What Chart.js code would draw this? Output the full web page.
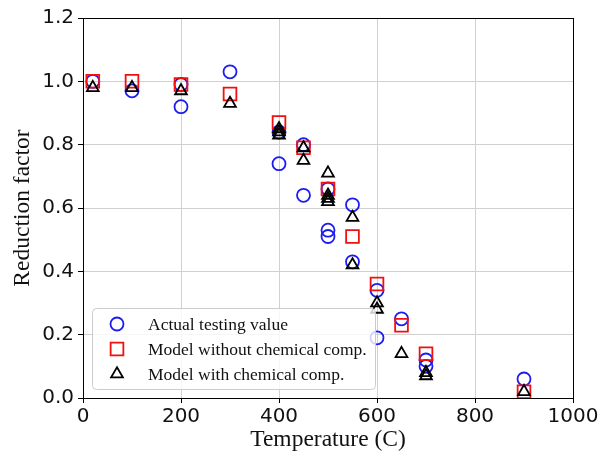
<!DOCTYPE html>
<html>
<head>
<meta charset="utf-8">
<script src="https://cdn.jsdelivr.net/npm/chart.js@4/dist/chart.umd.min.js"></script>
<style>
  html, body { margin: 0; padding: 0; background: #fff; }
  #wrap { width: 609px; height: 458px; }
</style>
</head>
<body>
<div id="wrap"><canvas id="c" width="609" height="458"></canvas></div>
<script>
// Measured reduction factors vs. temperature
const actualTemps  = [20, 100, 200, 200, 300, 400, 400, 450, 450, 500, 500, 500, 550, 550, 600, 600, 650, 700, 700, 900];
const actualValues = [1.00, 0.97, 0.99, 0.92, 1.03, 0.84, 0.74, 0.80, 0.64, 0.66, 0.53, 0.51, 0.61, 0.43, 0.34, 0.19, 0.25, 0.12, 0.10, 0.06];

// Model predictions without chemical composition
const noChemTemps  = [20, 100, 200, 300, 400, 450, 500, 550, 600, 650, 700, 900];
const noChemValues = [1.00, 1.00, 0.99, 0.96, 0.87, 0.79, 0.66, 0.51, 0.36, 0.23, 0.14, 0.02];

// Model predictions with chemical composition
const chemTemps  = [20, 100, 200, 300, 400, 400, 400, 450, 450, 500, 500, 500, 500, 550, 550, 600, 600, 650, 700, 700, 900];
const chemValues = [0.98, 0.98, 0.97, 0.93, 0.85, 0.84, 0.83, 0.79, 0.75, 0.71, 0.64, 0.63, 0.62, 0.57, 0.42, 0.30, 0.28, 0.14, 0.08, 0.07, 0.02];

const xTicks = [0, 200, 400, 600, 800, 1000];
const yTicks = [0.0, 0.2, 0.4, 0.6, 0.8, 1.0, 1.2];

const seriesLabels = ['Actual testing value', 'Model without chemical comp.', 'Model with chemical comp.'];

const toPoints = (xs, ys) => xs.map((x, i) => ({ x: x, y: ys[i] }));

const serif = "'Liberation Serif', 'Times New Roman', serif";
const sans = "'DejaVu Sans', sans-serif";

// Frame around the plotting area
const frame = {
  id: 'frame',
  beforeDatasetsDraw(chart) {
    const { ctx, chartArea: a } = chart;
    ctx.save();
    ctx.strokeStyle = '#000';
    ctx.lineWidth = 1;
    ctx.strokeRect(Math.round(a.left) + 0.5, Math.round(a.top) + 0.5,
                   Math.round(a.right - a.left), Math.round(a.bottom - a.top));
    ctx.restore();
  }
};

// Boxed legend in the lower-left corner of the plot
const boxLegend = {
  id: 'boxLegend',
  afterDatasetsDraw(chart) {
    const { ctx, chartArea: a } = chart;
    const w = 283, h = 81;
    const x = a.left + 9, y = a.bottom - 9 - h;
    ctx.save();
    ctx.beginPath();
    ctx.roundRect(x + 0.5, y + 0.5, w, h, 4);
    ctx.fillStyle = 'rgba(255,255,255,0.8)';
    ctx.fill();
    ctx.strokeStyle = '#cccccc';
    ctx.lineWidth = 1;
    ctx.stroke();
    chart.data.datasets.forEach((ds, i) => {
      const cy = y + 16 + i * 25;
      ctx.strokeStyle = ds.borderColor;
      ctx.fillStyle = 'rgba(0,0,0,0)';
      ctx.lineWidth = ds.pointBorderWidth;
      Chart.helpers.drawPoint(ctx, {
        pointStyle: ds.pointStyle, radius: ds.pointRadius, rotation: 0, borderWidth: ds.pointBorderWidth
      }, x + 25, cy);
      ctx.fillStyle = '#111';
      ctx.font = '17.5px ' + serif;
      ctx.textAlign = 'left';
      ctx.textBaseline = 'middle';
      ctx.fillText(ds.label, x + 56, cy + 1);
    });
    ctx.restore();
  }
};

new Chart(document.getElementById('c'), {
  type: 'scatter',
  data: {
    datasets: [
      {
        label: seriesLabels[0],
        data: toPoints(actualTemps, actualValues),
        pointStyle: 'circle', pointRadius: 6.5, pointBorderWidth: 1.8,
        borderColor: '#1c1cf0', backgroundColor: 'rgba(0,0,0,0)', order: 3
      },
      {
        label: seriesLabels[1],
        data: toPoints(noChemTemps, noChemValues),
        pointStyle: 'rect', pointRadius: 9, pointBorderWidth: 1.8,
        borderColor: '#f01010', backgroundColor: 'rgba(0,0,0,0)', order: 2
      },
      {
        label: seriesLabels[2],
        data: toPoints(chemTemps, chemValues),
        pointStyle: 'triangle', pointRadius: 6.8, pointBorderWidth: 1.8,
        borderColor: '#000000', backgroundColor: 'rgba(0,0,0,0)', order: 1
      }
    ]
  },
  options: {
    responsive: false,
    animation: false,
    layout: { padding: { top: 18, right: 36, left: 0, bottom: 0 } },
    plugins: { legend: { display: false }, tooltip: { enabled: false } },
    scales: {
      x: {
        type: 'linear', min: 0, max: 1000,
        afterBuildTicks: s => { s.ticks = xTicks.map(v => ({ value: v })); },
        afterFit: s => { s.height = 60; },
        ticks: { font: { family: sans, size: 20 }, color: '#111', padding: 2, maxRotation: 0,
                 callback: v => String(v) },
        grid: { color: '#d0d0d0', lineWidth: 1, tickColor: '#000', tickLength: 5 },
        border: { display: false },
        title: { display: true, text: 'Temperature (C)', color: '#111',
                 font: { family: serif, size: 23.5 }, padding: { top: 0, bottom: 4 } }
      },
      y: {
        type: 'linear', min: 0, max: 1.2,
        afterBuildTicks: s => { s.ticks = yTicks.map(v => ({ value: v })); },
        afterFit: s => { s.width = 83; },
        ticks: { font: { family: sans, size: 20 }, color: '#111', padding: 4,
                 callback: v => Number(v).toFixed(1) },
        grid: { color: '#d0d0d0', lineWidth: 1, tickColor: '#000', tickLength: 5 },
        border: { display: false },
        title: { display: true, text: 'Reduction factor', color: '#111',
                 font: { family: serif, size: 23.5 }, padding: { top: 9, bottom: 0 } }
      }
    }
  },
  plugins: [frame, boxLegend]
});
</script>
</body>
</html>
